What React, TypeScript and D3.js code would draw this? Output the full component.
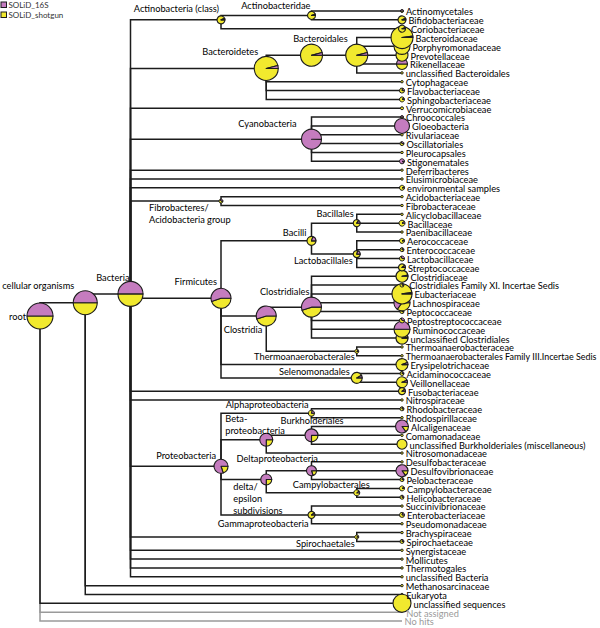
import React from "react";
import * as d3 from "d3";

// ---------- data ----------
const seriesNames = ["SOLiD_16S", "SOLiD_shotgun"];

const taxa = [
  "root", "cellular organisms", "Bacteria",
  "Actinobacteria (class)", "Actinobacteridae", "Actinomycetales", "Bifidobacteriaceae", "Coriobacteriaceae",
  "Bacteroidetes", "Bacteroidia", "Bacteroidales", "Bacteroidaceae", "Porphyromonadaceae", "Prevotellaceae", "Rikenellaceae", "unclassified Bacteroidales",
  "Cytophagaceae", "Flavobacteriaceae", "Sphingobacteriaceae",
  "Verrucomicrobiaceae",
  "Cyanobacteria", "Chroococcales", "Gloeobacteria", "Rivulariaceae", "Oscillatoriales", "Pleurocapsales", "Stigonematales",
  "Deferribacteres", "Elusimicrobiaceae", "environmental samples",
  "Fibrobacteres/Acidobacteria group", "Acidobacteriaceae", "Fibrobacteraceae",
  "Firmicutes", "Bacilli", "Bacillales", "Alicyclobacillaceae", "Bacillaceae", "Paenibacillaceae",
  "Lactobacillales", "Aerococcaceae", "Enterococcaceae", "Lactobacillaceae", "Streptococcaceae",
  "Clostridia", "Clostridiales", "Clostridiaceae", "Clostridiales Family XI. Incertae Sedis", "Eubacteriaceae", "Lachnospiraceae",
  "Peptococcaceae", "Peptostreptococcaceae", "Ruminococcaceae", "unclassified Clostridiales",
  "Thermoanaerobacterales", "Thermoanaerobacteraceae", "Thermoanaerobacterales Family III.Incertae Sedis",
  "Erysipelotrichaceae", "Selenomonadales", "Acidaminococcaceae", "Veillonellaceae",
  "Fusobacteriaceae", "Nitrospiraceae",
  "Proteobacteria", "Alphaproteobacteria", "Rhodobacteraceae", "Rhodospirillaceae",
  "Betaproteobacteria", "Burkholderiales", "Alcaligenaceae", "Comamonadaceae", "unclassified Burkholderiales (miscellaneous)", "Nitrosomonadaceae",
  "delta/epsilon subdivisions", "Deltaproteobacteria", "Desulfobacteraceae", "Desulfovibrionaceae", "Pelobacteraceae",
  "Campylobacterales", "Campylobacteraceae", "Helicobacteraceae",
  "Gammaproteobacteria", "Succinivibrionaceae", "Enterobacteriaceae", "Pseudomonadaceae",
  "Spirochaetales", "Brachyspiraceae", "Spirochaetaceae",
  "Synergistaceae", "Mollicutes", "Thermotogales", "unclassified Bacteria",
  "Methanosarcinaceae", "Eukaryota",
  "unclassified sequences", "Not assigned", "No hits",
];

const parentOf = [
  "", "root", "cellular organisms",
  "Bacteria", "Actinobacteria (class)", "Actinobacteridae", "Actinobacteridae", "Actinobacteria (class)",
  "Bacteria", "Bacteroidetes", "Bacteroidia", "Bacteroidales", "Bacteroidales", "Bacteroidales", "Bacteroidales", "Bacteroidales",
  "Bacteroidetes", "Bacteroidetes", "Bacteroidetes",
  "Bacteria",
  "Bacteria", "Cyanobacteria", "Cyanobacteria", "Cyanobacteria", "Cyanobacteria", "Cyanobacteria", "Cyanobacteria",
  "Bacteria", "Bacteria", "Bacteria",
  "Bacteria", "Fibrobacteres/Acidobacteria group", "Fibrobacteres/Acidobacteria group",
  "Bacteria", "Firmicutes", "Bacilli", "Bacillales", "Bacillales", "Bacillales",
  "Bacilli", "Lactobacillales", "Lactobacillales", "Lactobacillales", "Lactobacillales",
  "Firmicutes", "Clostridia", "Clostridiales", "Clostridiales", "Clostridiales", "Clostridiales",
  "Clostridiales", "Clostridiales", "Clostridiales", "Clostridiales",
  "Clostridia", "Thermoanaerobacterales", "Thermoanaerobacterales",
  "Firmicutes", "Firmicutes", "Selenomonadales", "Selenomonadales",
  "Bacteria", "Bacteria",
  "Bacteria", "Proteobacteria", "Alphaproteobacteria", "Alphaproteobacteria",
  "Proteobacteria", "Betaproteobacteria", "Burkholderiales", "Burkholderiales", "Burkholderiales", "Betaproteobacteria",
  "Proteobacteria", "delta/epsilon subdivisions", "Deltaproteobacteria", "Deltaproteobacteria", "Deltaproteobacteria",
  "delta/epsilon subdivisions", "Campylobacterales", "Campylobacterales",
  "Proteobacteria", "Gammaproteobacteria", "Gammaproteobacteria", "Gammaproteobacteria",
  "Bacteria", "Spirochaetales", "Spirochaetales",
  "Bacteria", "Bacteria", "Bacteria", "Bacteria",
  "cellular organisms", "cellular organisms",
  "root", "root", "root",
];

// level of each node in the drawn tree (leaves are at the last level)
const treeLevel = [
  0, 1, 2,
  4, 6, 8, 8, 8,
  5, 6, 7, 8, 8, 8, 8, 8,
  8, 8, 8,
  8,
  6, 8, 8, 8, 8, 8, 8,
  8, 8, 8,
  4, 8, 8,
  4, 6, 7, 8, 8, 8,
  7, 8, 8, 8, 8,
  5, 6, 8, 8, 8, 8,
  8, 8, 8, 8,
  7, 8, 8,
  8, 7, 8, 8,
  8, 8,
  4, 6, 8, 8,
  5, 6, 8, 8, 8, 8,
  5, 6, 8, 8, 8,
  7, 8, 8,
  6, 8, 8, 8,
  7, 8, 8,
  8, 8, 8, 8,
  8, 8,
  8, 8, 8,
];

// total assigned reads (both datasets) per node
const readsTotal = [
  20000, 17000, 18500,
  1890, 1890, 265, 1890, 1450,
  17000, 14300, 14300, 14300, 7600, 4260, 3580, 170,
  170, 740, 740,
  265,
  11800, 265, 6650, 170, 470, 170, 740,
  170, 170, 740,
  470, 170, 170,
  11800, 2400, 1450, 170, 1065, 170,
  1450, 740, 470, 740, 1450,
  11800, 11800, 4260, 470, 11800, 7600,
  470, 740, 7600, 4260,
  470, 170, 170,
  4260, 3580, 470, 3580,
  1450, 170,
  5800, 1065, 470, 170,
  5000, 5000, 5000, 170, 2960, 170,
  3580, 2960, 170, 4260, 470,
  1065, 740, 470,
  1450, 170, 740, 170,
  470, 170, 470,
  170, 170, 170, 170,
  170, 170,
  9600, 0, 0,
];

// share of the reads that come from SOLiD_16S (rest: SOLiD_shotgun)
const share16S = [
  0.5, 0.5, 0.5,
  0.06, 0.06, 0.5, 0.06, 0.05,
  0.04, 0.04, 0.04, 0.02, 0.0, 0.0, 0.5, 0.0,
  0.0, 0.2, 0.1,
  0.0,
  0.995, 0.5, 1.0, 0.0, 0.3, 0.0, 0.9,
  0.0, 0.0, 0.05,
  0.3, 0.0, 0.0,
  0.55, 0.2, 0.15, 0.0, 0.1, 0.0,
  0.2, 0.05, 0.2, 0.3, 0.1,
  0.55, 0.55, 0.03, 0.2, 0.02, 0.65,
  0.2, 0.3, 0.5, 0.03,
  0.1, 0.0, 0.0,
  0.06, 0.08, 0.2, 0.06,
  0.1, 0.0,
  0.8, 0.2, 0.2, 0.0,
  0.75, 0.75, 0.85, 0.0, 0.0, 0.0,
  0.75, 0.8, 0.0, 0.85, 0.2,
  0.1, 0.05, 0.2,
  0.1, 0.0, 0.2, 0.0,
  0.1, 0.0, 0.2,
  0.0, 0.0, 0.0, 0.0,
  0.0, 0.0,
  0.0, 0.0, 0.0,
];

// ---------- presentation ----------
const COL16S = "#c57cbf";
const COLSHOT = "#f1e92e";
const LINE = "#1c1c1c";
const GREY = "#9a9a9a";
const FONT = "Lato, 'DejaVu Sans', sans-serif";
const FS = 9.25;
const greyTaxa = new Set(["Not assigned", "No hits"]);

type LabelCfg = { lines: string[]; anchor: "start" | "end"; dx: number; dy: number };
const innerLabels: Record<string, LabelCfg> = {
  "root": { lines: ["root"], anchor: "end", dx: -14, dy: 4 },
  "cellular organisms": { lines: ["cellular organisms"], anchor: "end", dx: -11, dy: -13.5 },
  "Bacteria": { lines: ["Bacteria"], anchor: "end", dx: -1, dy: -12.5 },
  "Actinobacteria (class)": { lines: ["Actinobacteria (class)"], anchor: "end", dx: -2, dy: -8 },
  "Actinobacteridae": { lines: ["Actinobacteridae"], anchor: "end", dx: -1, dy: -6 },
  "Bacteroidetes": { lines: ["Bacteroidetes"], anchor: "end", dx: -8, dy: -13 },
  "Bacteroidales": { lines: ["Bacteroidales"], anchor: "end", dx: -9, dy: -13.5 },
  "Cyanobacteria": { lines: ["Cyanobacteria"], anchor: "end", dx: -15, dy: -12 },
  "Fibrobacteres/Acidobacteria group": { lines: ["Fibrobacteres/", "Acidobacteria group"], anchor: "start", dx: -72, dy: 9.5 },
  "Firmicutes": { lines: ["Firmicutes"], anchor: "end", dx: -4, dy: -13 },
  "Bacilli": { lines: ["Bacilli"], anchor: "end", dx: -5, dy: -5 },
  "Bacillales": { lines: ["Bacillales"], anchor: "end", dx: -3, dy: -6 },
  "Lactobacillales": { lines: ["Lactobacillales"], anchor: "end", dx: -4, dy: 9.5 },
  "Clostridia": { lines: ["Clostridia"], anchor: "end", dx: -4, dy: 16.5 },
  "Clostridiales": { lines: ["Clostridiales"], anchor: "end", dx: -2, dy: -12.5 },
  "Thermoanaerobacterales": { lines: ["Thermoanaerobacterales"], anchor: "end", dx: -2, dy: 9 },
  "Selenomonadales": { lines: ["Selenomonadales"], anchor: "end", dx: -7, dy: -2.5 },
  "Proteobacteria": { lines: ["Proteobacteria"], anchor: "end", dx: -5, dy: -7 },
  "Alphaproteobacteria": { lines: ["Alphaproteobacteria"], anchor: "end", dx: -3, dy: -5.7 },
  "Betaproteobacteria": { lines: ["Beta-", "proteobacteria"], anchor: "start", dx: -41, dy: -18 },
  "Burkholderiales": { lines: ["Burkholderiales"], anchor: "start", dx: -31, dy: -11 },
  "delta/epsilon subdivisions": { lines: ["delta/", "epsilon", "subdivisions"], anchor: "start", dx: -33, dy: 10 },
  "Deltaproteobacteria": { lines: ["Deltaproteobacteria"], anchor: "start", dx: -75, dy: -9 },
  "Campylobacterales": { lines: ["Campylobacterales"], anchor: "start", dx: -64, dy: -5.3 },
  "Gammaproteobacteria": { lines: ["Gammaproteobacteria"], anchor: "end", dx: -3, dy: 11.6 },
  "Spirochaetales": { lines: ["Spirochaetales"], anchor: "end", dx: -2, dy: 9.5 },
};

type Row = { name: string; parent: string; level: number; total: number; f: number };

let measureCtx: CanvasRenderingContext2D | null = null;
function textWidth(s: string, size: number): number {
  if (!measureCtx && typeof document !== "undefined") {
    measureCtx = document.createElement("canvas").getContext("2d");
  }
  if (!measureCtx) return s.length * size * 0.45;
  measureCtx.font = `${size}px Lato, 'DejaVu Sans', sans-serif`;
  return measureCtx.measureText(s).width;
}

export default function App() {
  const W = 600, H = 628;
  const table: Row[] = taxa.map((name, i) => ({
    name, parent: parentOf[i], level: treeLevel[i], total: readsTotal[i], f: share16S[i],
  }));
  const root = d3.stratify<Row>().id(d => d.name).parentId(d => (d.parent ? d.parent : null))(table);
  const leaves = root.leaves();
  const leafIndex = new Map(leaves.map((l, i) => [l.id, i]));

  const y = d3.scaleLinear().domain([0, leaves.length - 1]).range([11, 621]);
  const x = d3.scaleLinear().domain([0, 8]).range([40, 402]);
  const r = d3.scaleSqrt().domain([0, 20000]).range([0, 13]);

  const pos = new Map<string, { x: number; y: number; r: number }>();
  root.each(n => {
    const ly = d3.mean(n.leaves(), l => y(leafIndex.get(l.id)!))!;
    pos.set(n.id!, { x: x(n.data.level), y: ly, r: r(n.data.total) });
  });

  const nodes = root.descendants();
  const pieGen = d3.pie<number>().sort(null).startAngle(Math.PI / 2).endAngle(Math.PI / 2 + 2 * Math.PI);
  const arcGen = d3.arc<d3.PieArcDatum<number>>().innerRadius(0);

  // edges
  const edges: React.ReactNode[] = [];
  const greyEdges: React.ReactNode[] = [];
  nodes.forEach(n => {
    if (!n.parent) return;
    const p = pos.get(n.parent.id!)!;
    const c = pos.get(n.id!)!;
    const grey = greyTaxa.has(n.id!);
    const el = (
      <path key={"e" + n.id} d={`M${p.x},${p.y}V${c.y}H${c.x}`} fill="none"
        stroke={grey ? GREY : LINE} strokeWidth={1.5} />
    );
    (grey ? greyEdges : edges).push(el);
  });

  // pies (earlier nodes drawn on top)
  const pies = nodes.slice().reverse().filter(n => n.data.total > 0).map(n => {
    const c = pos.get(n.id!)!;
    const vals = [n.data.total * (1 - n.data.f), n.data.total * n.data.f];
    const arcs = pieGen(vals);
    return (
      <g key={"p" + n.id} transform={`translate(${c.x},${c.y})`}>
        {arcs.map((a, i) => (a.value > 0 ? (
          <path key={i} d={arcGen.outerRadius(c.r)(a)!} fill={i === 0 ? COLSHOT : COL16S}
            stroke={LINE} strokeWidth={c.r < 3 ? 1 : 1.1} strokeLinejoin="round" />
        ) : null))}
      </g>
    );
  });

  // leaf labels, shifted right past any pie that covers their row
  const leafPies = leaves.map(l => pos.get(l.id!)!);
  const leafLabels = leaves.map((l, i) => {
    const ly = y(i);
    let ext = 0;
    leafPies.forEach(p => {
      const dy = Math.abs(p.y - ly);
      if (dy < p.r) ext = Math.max(ext, Math.sqrt(p.r * p.r - dy * dy));
    });
    const tx = x(8) + ext + 2.5;
    const avail = W - 3 - tx;
    const tw = textWidth(l.id!, FS);
    const fs = tw > avail ? FS * (avail / tw) : FS;
    return (
      <text key={"l" + l.id} x={tx} y={ly + 4.4} fontSize={fs}
        fill={greyTaxa.has(l.id!) ? GREY : "#000"}>{l.id}</text>
    );
  });

  const innerTexts = nodes.filter(n => innerLabels[n.id!]).map(n => {
    const c = pos.get(n.id!)!;
    const cfg = innerLabels[n.id!];
    return (
      <text key={"i" + n.id} x={c.x + cfg.dx} y={c.y + cfg.dy} fontSize={FS}
        textAnchor={cfg.anchor} fill="#000">
        {cfg.lines.map((s, k) => (
          <tspan key={k} x={c.x + cfg.dx} dy={k === 0 ? 0 : 12}>{s}</tspan>
        ))}
      </text>
    );
  });

  return (
    <svg width={W} height={H} viewBox={`0 0 ${W} ${H}`}
      style={{ position: "absolute", left: 0, top: 0, background: "#fff" }}
      fontFamily={FONT}>
      <g>
        {[COL16S, COLSHOT].map((c, i) => (
          <g key={seriesNames[i]}>
            <rect x={1} y={2 + i * 10} width={5.5} height={5.5} fill={c} stroke={LINE} strokeWidth={1} />
            <text x={8.5} y={8.3 + i * 10} fontSize={8} fill="#333">{seriesNames[i]}</text>
          </g>
        ))}
      </g>
      <g>{greyEdges}</g>
      <g>{edges}</g>
      <g>{pies}</g>
      <g>{leafLabels}</g>
      <g>{innerTexts}</g>
    </svg>
  );
}
